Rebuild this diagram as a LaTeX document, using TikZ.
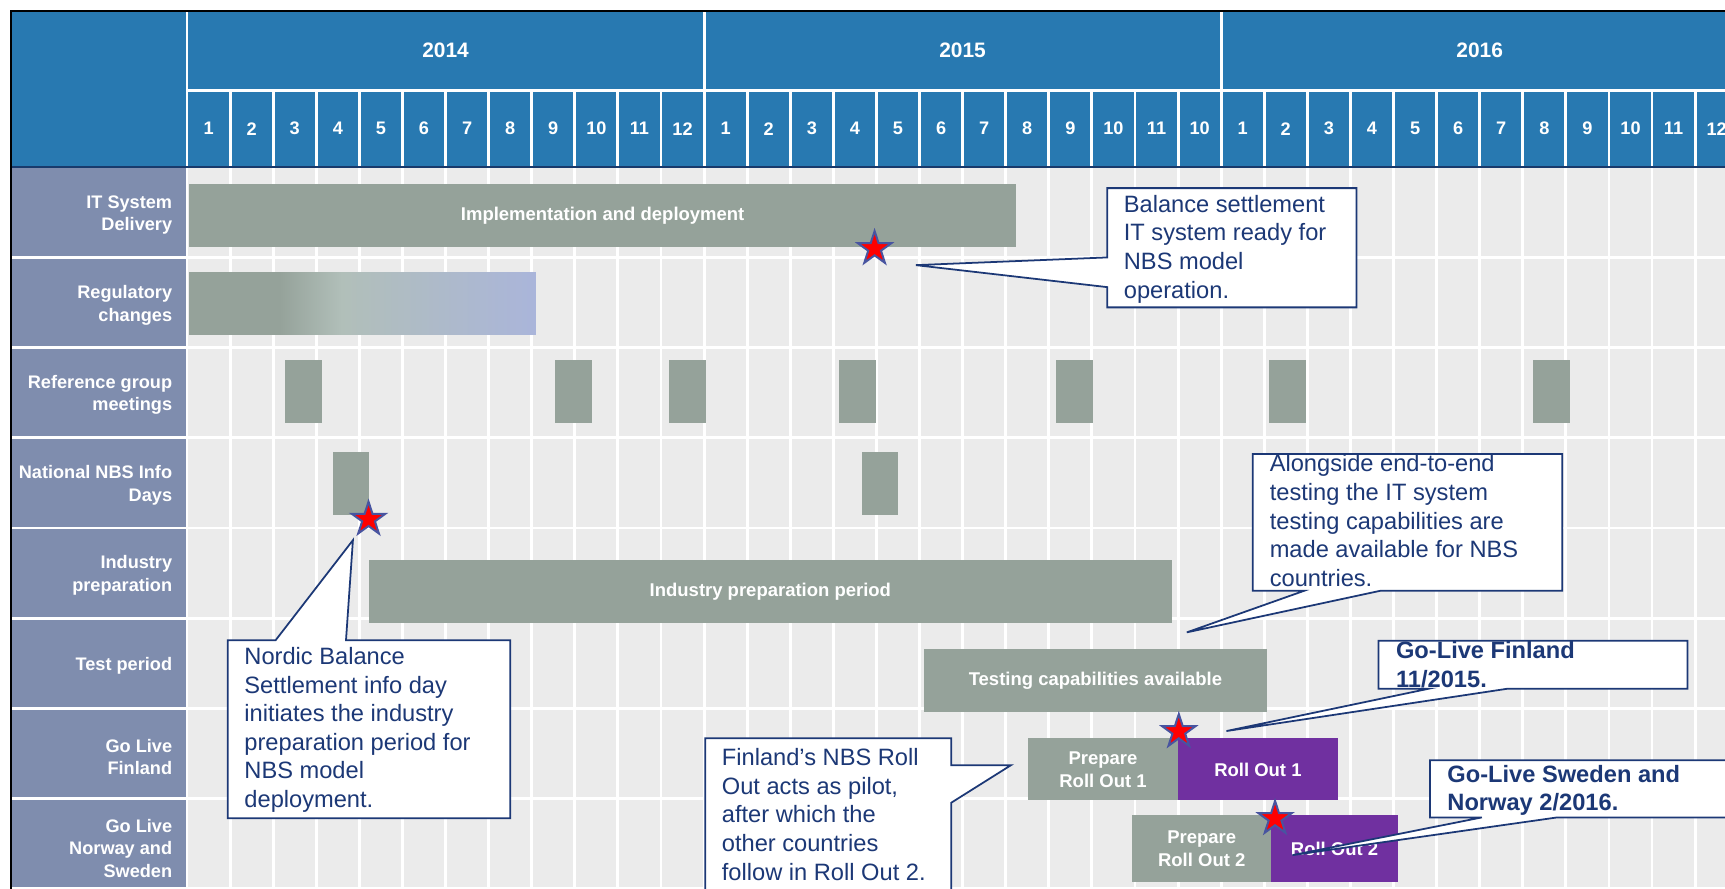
\documentclass[tikz,border=0pt]{standalone}
\usepackage{fontspec}
\setmainfont{Liberation Sans}
\usetikzlibrary{shapes.geometric,positioning}

\definecolor{headblue}{RGB}{40,121,177}
\definecolor{headline}{RGB}{24,58,108}
\definecolor{rowblue}{RGB}{127,141,174}
\definecolor{gridgray}{RGB}{235,235,235}
\definecolor{bargray}{RGB}{149,162,154}
\definecolor{barmid}{RGB}{177,191,185}
\definecolor{barblue}{RGB}{170,181,218}
\definecolor{rollpurple}{RGB}{112,48,160}
\definecolor{notenavy}{RGB}{28,56,118}
\definecolor{starblue}{RGB}{72,84,160}

% regulatory bar: gray that fades into light blue
\pgfdeclarehorizontalshading{regfade}{100bp}{color(0bp)=(bargray); color(38bp)=(bargray); color(47bp)=(barmid); color(75bp)=(barblue); color(100bp)=(barblue)}

\begin{document}
\begin{tikzpicture}[x=1pt, y=-1pt,
    bar/.style={fill=bargray, text=white, inner sep=0pt, outer sep=0pt, align=center,
      font=\fontsize{16.8}{20.6}\selectfont\bfseries},
    roll/.style={bar, fill=rollpurple},
    meet/.style={fill=bargray, inner sep=0pt, minimum width=33.5pt, minimum height=56.9pt},
    rowname/.style={anchor=east, text=white, align=right,
      font=\fontsize{16.5}{20.6}\selectfont\bfseries},
    yearname/.style={text=white, font=\fontsize{19}{23}\selectfont\bfseries},
    monthname/.style={text=white, font=\fontsize{16.5}{20}\selectfont\bfseries},
    milestone/.style={star, star points=5, star point ratio=2.618, minimum size=32pt,
      inner sep=0pt, fill=red, draw=starblue, line width=1.8pt},
    notebox/.style={fill=white, draw=notenavy, line width=1.6pt},
    note/.style={anchor=north west, inner sep=0pt, align=left, text=notenavy,
      font=\fontsize{21.5}{26}\selectfont, execute at begin node=\strut},
    keynote/.style={note, font=\fontsize{21.5}{26}\selectfont\bfseries},
    gridline/.style={white, line width=2.6pt}
  ]
  \useasboundingbox (0,0) rectangle (1568,808);

  % background areas
  \fill[gridgray] (170,152) rectangle (1590,830);
  \fill[rowblue] (10,152) rectangle (170,830);
  \fill[headblue] (10,10) rectangle (1590,152);

  % grid lines
  \foreach \i in {1,...,36}
    \draw[gridline] ({170+\i*39.1667},82) -- ({170+\i*39.1667},830);
  \foreach \x in {640,1110}
    \draw[gridline] (\x,10) -- (\x,82);
  \foreach \r in {1,...,8}
    \draw[gridline] (10,{152+\r*82}) -- (1590,{152+\r*82});
  \draw[gridline] (170,10) -- (170,830);
  \draw[gridline] (170,82) -- (1590,82);
  \draw[headline, line width=2pt] (10,152) -- (1590,152);
  \draw[black, line width=2.4pt] (10,830) -- (10,10) -- (1590,10);

  % years and months
  \node[yearname] (y2014) at (405,46) {2014};
  \node[yearname] (y2015) at (875,46) {2015};
  \node[yearname] (y2016) at (1345,46) {2016};
  \foreach \t [count=\i] in {1,2,3,4,5,6,7,8,9,10,11,12,1,2,3,4,5,6,7,8,9,10,11,10,1,2,3,4,5,6,7,8,9,10,11,12}
    \node[monthname] (mon\i) at ({170+(\i-0.5)*39.1667},117) {\t};

  % row names
  \node[rowname] (itsys) at (160,195.5) {IT System\\Delivery};
  \node[rowname] (regul) at (160,277.5) {Regulatory\\changes};
  \node[rowname] (refgrp) at (160,359) {Reference group\\meetings};
  \node[rowname] (infoday) at (160,441) {National NBS Info\\Days};
  \node[rowname] (indprep) at (160,523) {Industry\\preparation};
  \node[rowname] (testper) at (160,605.5) {Test period};
  \node[rowname] (golfi) at (160,688) {Go Live\\Finland};
  \node[rowname] (golno) at (160,771) {Go Live\\Norway and\\Sweden};

  % bars
  \node[bar, minimum width=751.6pt, minimum height=56.9pt] (impl) at (547.8,195.75) {Implementation and deployment};
  \node[bar, shade, shading=regfade, minimum width=315pt, minimum height=56.9pt] (reg) at (329.5,275.75) {};
  \foreach \x [count=\i] in {275.9,521.4,624.9,779.7,976.9,1170.4,1410.5}
    \node[meet] (meet\i) at (\x,355.75) {};
  \node[meet, minimum width=32.6pt] (info1) at (319,439.4) {};
  \node[meet, minimum width=32.6pt] (info2) at (800,439.4) {};
  \node[bar, minimum width=730.5pt, minimum height=57pt] (indbar) at (700.25,537.5) {Industry preparation period};
  \node[bar, minimum width=311.5pt, minimum height=56.7pt] (testbar) at (995.75,618.65) {Testing capabilities available};
  \node[bar, minimum width=136.4pt, minimum height=56.4pt] (prep1) at (1002.6,699.4) {Prepare\\Roll Out 1};
  \node[roll, minimum width=145.2pt, minimum height=56.4pt, right=0pt of prep1] (ro1) {Roll Out 1};
  \node[bar, minimum width=126.7pt, minimum height=61pt] (prep2) at (1092.35,771.5) {Prepare\\Roll Out 2};
  \node[roll, minimum width=114.8pt, minimum height=61pt, right=0pt of prep2] (ro2) {Roll Out 2};

  % milestones
  \node[milestone] (st1) at (795,226) {};
  \node[milestone] (st2) at (335,472) {};
  \node[milestone] (st3) at (1071.5,665) {};
  \node[milestone] (st4) at (1159,744) {};

  % callouts
  \coordinate (tipSys) at (832.5,241);
  \coordinate (tipInfo) at (320.8,491);
  \coordinate (tipPilot) at (919,695.5);
  \coordinate (tipTest) at (1078.8,574.8);
  \coordinate (tipFin) at (1114.8,664.5);
  \coordinate (tipSwe) at (1174.8,777.3);

  \filldraw[notebox] (1006.5,171) -- (1233,171) -- (1233,279.4) -- (1006.5,279.4)
    -- (1006.5,261) -- (tipSys) -- (1006.5,234) -- cycle;
  \filldraw[notebox] (207,582) -- (250.5,582) -- (tipInfo) -- (314.5,582) -- (463.8,582)
    -- (463.8,743.8) -- (207,743.8) -- cycle;
  \filldraw[notebox] (641,671) -- (864.6,671) -- (864.6,695.5) -- (tipPilot) -- (864.6,729.7)
    -- (864.6,830) -- (641,830) -- cycle;
  \filldraw[notebox] (1138.8,412.7) -- (1420,412.7) -- (1420,537) -- (1254.7,537)
    -- (tipTest) -- (1185.5,537) -- (1138.8,537) -- cycle;
  \filldraw[notebox] (1253,582.4) -- (1534,582.4) -- (1534,626) -- (1370.5,626)
    -- (tipFin) -- (1298.8,626) -- (1253,626) -- cycle;
  \filldraw[notebox] (1299.8,691) -- (1590,691) -- (1590,743) -- (1415.5,743)
    -- (tipSwe) -- (1347,743) -- (1299.8,743) -- cycle;

  \node[note] (sysnote) at (1021.4,177.2) {Balance settlement\\IT system ready for\\NBS model\\operation.};
  \node[note] (infonote) at (222,588.2) {Nordic Balance\\Settlement info day\\initiates the industry\\preparation period for\\NBS model\\deployment.};
  \node[note] (pilotnote) at (656,680.2) {Finland’s NBS Roll\\Out acts as pilot,\\after which the\\other countries\\follow in Roll Out 2.};
  \node[note] (testnote) at (1154,413.2) {Alongside end-to-end\\testing the IT system\\testing capabilities are\\made available for NBS\\countries.};
  \node[keynote] (finnote) at (1268.8,583.2) {Go-Live Finland\\11/2015.};
  \node[keynote] (swenote) at (1315.5,695.2) {Go-Live Sweden and\\Norway 2/2016.};
\end{tikzpicture}
\end{document}
